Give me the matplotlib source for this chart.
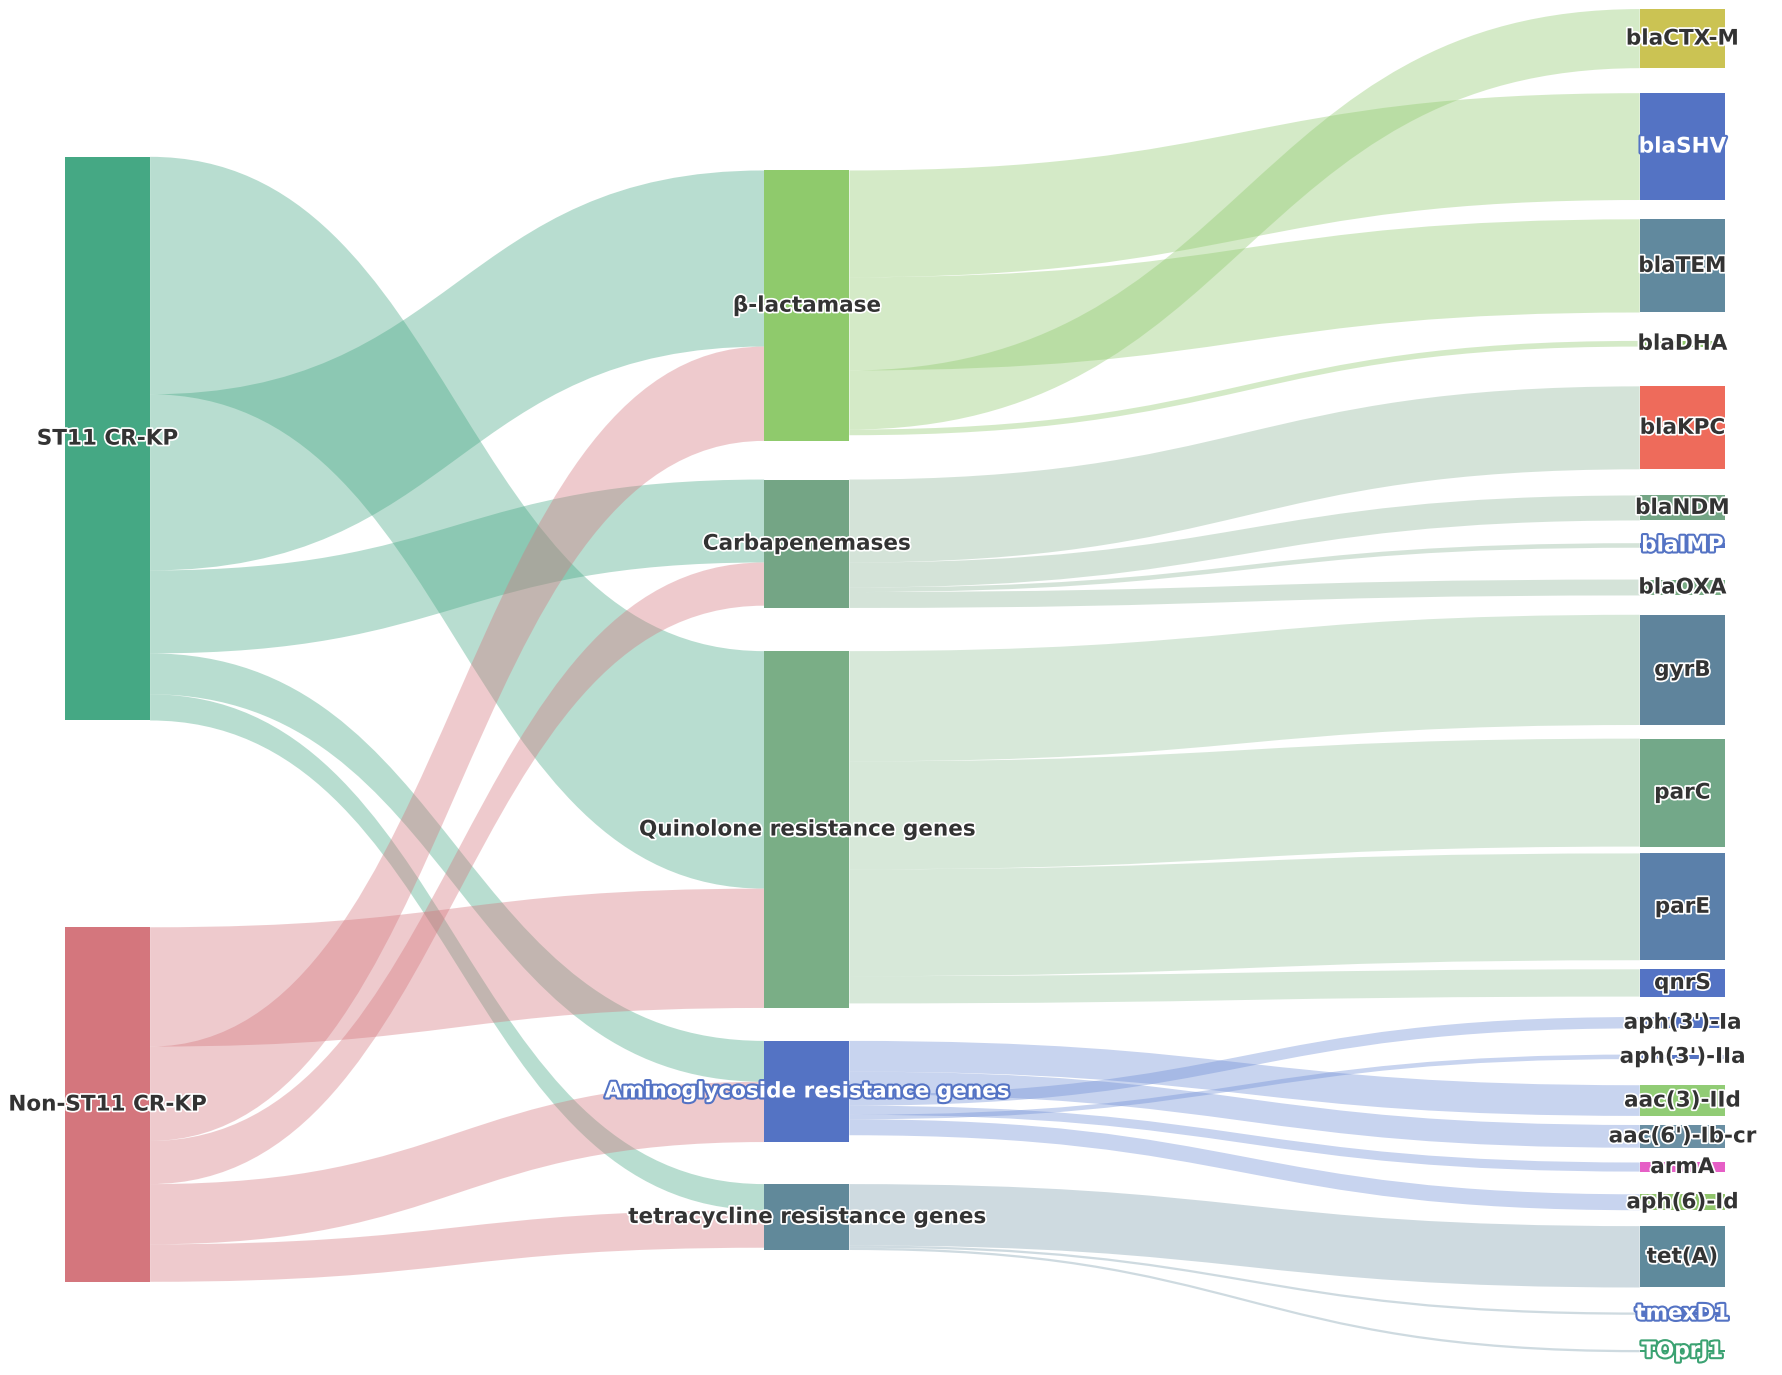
import matplotlib.pyplot as plt
from matplotlib.path import Path
from matplotlib.patches import PathPatch, Rectangle
import matplotlib.patheffects as pe

# Data: Sankey links (source, target, value)
sources = ["ST11 CR-KP", "Non-ST11 CR-KP"]
classes = ["β-lactamase", "Carbapenemases", "Quinolone resistance genes",
           "Aminoglycoside resistance genes", "tetracycline resistance genes"]
genes = ["blaCTX-M", "blaSHV", "blaTEM", "blaDHA", "blaKPC", "blaNDM", "blaIMP", "blaOXA",
         "gyrB", "parC", "parE", "qnrS",
         "aph(3')-Ia", "aph(3')-IIa", "aac(3)-IId", "aac(6')-Ib-cr", "armA", "aph(6)-Id",
         "tet(A)", "tmexD1", "TOprJ1"]

# values listed in link order: Quinolone, β-lactamase, Carbapenemases, Aminoglycoside, tetracycline
source_targets = [2, 0, 1, 3, 4]
st11_values = [209, 155, 73, 36, 23]
nonst11_values = [105, 83, 38, 53, 33]

beta_links = [("blaSHV", 94), ("blaTEM", 82), ("blaCTX-M", 52), ("blaDHA", 5)]
carb_links = [("blaKPC", 73), ("blaNDM", 22), ("blaIMP", 4), ("blaOXA", 14)]
quin_links = [("gyrB", 97), ("parC", 95), ("parE", 94), ("qnrS", 24)]
amino_links = [("aac(3)-IId", 27), ("aac(6')-Ib-cr", 20), ("aph(3')-Ia", 10),
               ("armA", 8), ("aph(3')-IIa", 4), ("aph(6)-Id", 14)]
tet_links = [("tet(A)", 54), ("tmexD1", 2), ("TOprJ1", 2)]

# Layout (reference pixel space, 1568 x 1210)
col_x = [57, 672, 1442]
node_w = 75
col0_top, col0_gaps = 138, [182]
col1_top, col1_gaps = 150, [34, 38, 29, 37]
col2_top, col2_gaps = 8, [22, 17, 25, 35, 23, 20, 28, 17, 12, 6, 8, 18, 23, 23, 8, 13, 20, 14, 22, 31]

colors = {
    "ST11 CR-KP": "#45a884", "Non-ST11 CR-KP": "#d4767d",
    "β-lactamase": "#8fca6c", "Carbapenemases": "#74a585", "Quinolone resistance genes": "#7aae86",
    "Aminoglycoside resistance genes": "#5473c4", "tetracycline resistance genes": "#61899a",
    "blaCTX-M": "#cbc353", "blaSHV": "#5473c4", "blaTEM": "#61899e", "blaDHA": "#8fca6c",
    "blaKPC": "#ee6b5b", "blaNDM": "#74a585", "blaIMP": "#5473c4", "blaOXA": "#7aae86",
    "gyrB": "#5f849c", "parC": "#73a889", "parE": "#5b80aa", "qnrS": "#5473c4",
    "aph(3')-Ia": "#5473c4", "aph(3')-IIa": "#5473c4", "aac(3)-IId": "#91cc75",
    "aac(6')-Ib-cr": "#6a8fa3", "armA": "#e65fc6", "aph(6)-Id": "#8fc46a",
    "tet(A)": "#5f8a9c", "tmexD1": "#5473c4", "TOprJ1": "#3ba272",
}
link_colors = {
    "ST11 CR-KP": "#45a884", "Non-ST11 CR-KP": "#d4767d",
    "β-lactamase": "#8fca6c", "Carbapenemases": "#8fb79a", "Quinolone resistance genes": "#96c49c",
    "Aminoglycoside resistance genes": "#6f8ed6", "tetracycline resistance genes": "#7f9fae",
}
outlined = {"blaSHV": "#5473c4", "blaIMP": "#5473c4", "tmexD1": "#5473c4",
            "TOprJ1": "#3ba272", "Aminoglycoside resistance genes": "#5473c4"}

# Build link list
links = []
for vals, s in [(st11_values, sources[0]), (nonst11_values, sources[1])]:
    for ti, v in zip(source_targets, vals):
        links.append((s, classes[ti], v))
for c, lst in zip(classes, [beta_links, carb_links, quin_links, amino_links, tet_links]):
    for g, v in lst:
        links.append((c, g, v))

# Node sizes
size = {}
for s, t, v in links:
    size.setdefault(s, [0, 0]); size.setdefault(t, [0, 0])
    size[s][0] += v; size[t][1] += v
node_h = {n: max(io) for n, io in size.items()}

node_top, node_col = {}, {}
for ci, (names, top, gaps) in enumerate([(sources, col0_top, col0_gaps),
                                         (classes, col1_top, col1_gaps),
                                         (genes, col2_top, col2_gaps)]):
    y = top
    for k, n in enumerate(names):
        node_top[n] = y
        node_col[n] = ci
        y += node_h[n] + (gaps[k] if k < len(gaps) else 0)

fig = plt.figure(figsize=(17.83, 13.75), dpi=100)
ax = fig.add_axes([0, 0, 1, 1])
ax.set_xlim(0, 1568)
ax.set_ylim(1210, 0)
ax.axis("off")

out_off = {n: 0 for n in node_h}
in_off = {n: 0 for n in node_h}
for s, t, v in links:
    x0 = col_x[node_col[s]] + node_w
    x1 = col_x[node_col[t]]
    y0 = node_top[s] + out_off[s]
    y1 = node_top[t] + in_off[t]
    out_off[s] += v
    in_off[t] += v
    xm = (x0 + x1) / 2
    verts = [(x0, y0), (xm, y0), (xm, y1), (x1, y1),
             (x1, y1 + v), (xm, y1 + v), (xm, y0 + v), (x0, y0 + v), (x0, y0)]
    codes = [Path.MOVETO, Path.CURVE4, Path.CURVE4, Path.CURVE4,
             Path.LINETO, Path.CURVE4, Path.CURVE4, Path.CURVE4, Path.CLOSEPOLY]
    ax.add_patch(PathPatch(Path(verts, codes), facecolor=link_colors[s],
                           edgecolor="none", alpha=0.38, zorder=1))

for n in node_h:
    x = col_x[node_col[n]]
    ax.add_patch(Rectangle((x, node_top[n]), node_w, node_h[n],
                           facecolor=colors[n], edgecolor="none", zorder=2))
    cy = node_top[n] + node_h[n] / 2
    if n in outlined:
        ax.text(x + node_w / 2, cy, n, ha="center", va="center", fontsize=15.5,
                fontweight="bold", color="white", zorder=3,
                path_effects=[pe.withStroke(linewidth=3, foreground=outlined[n])])
    else:
        ax.text(x + node_w / 2, cy, n, ha="center", va="center", fontsize=15.5,
                fontweight="bold", color="#333333", zorder=3,
                path_effects=[pe.withStroke(linewidth=2.5, foreground="white")])

fig.savefig("out.png", dpi=100)
